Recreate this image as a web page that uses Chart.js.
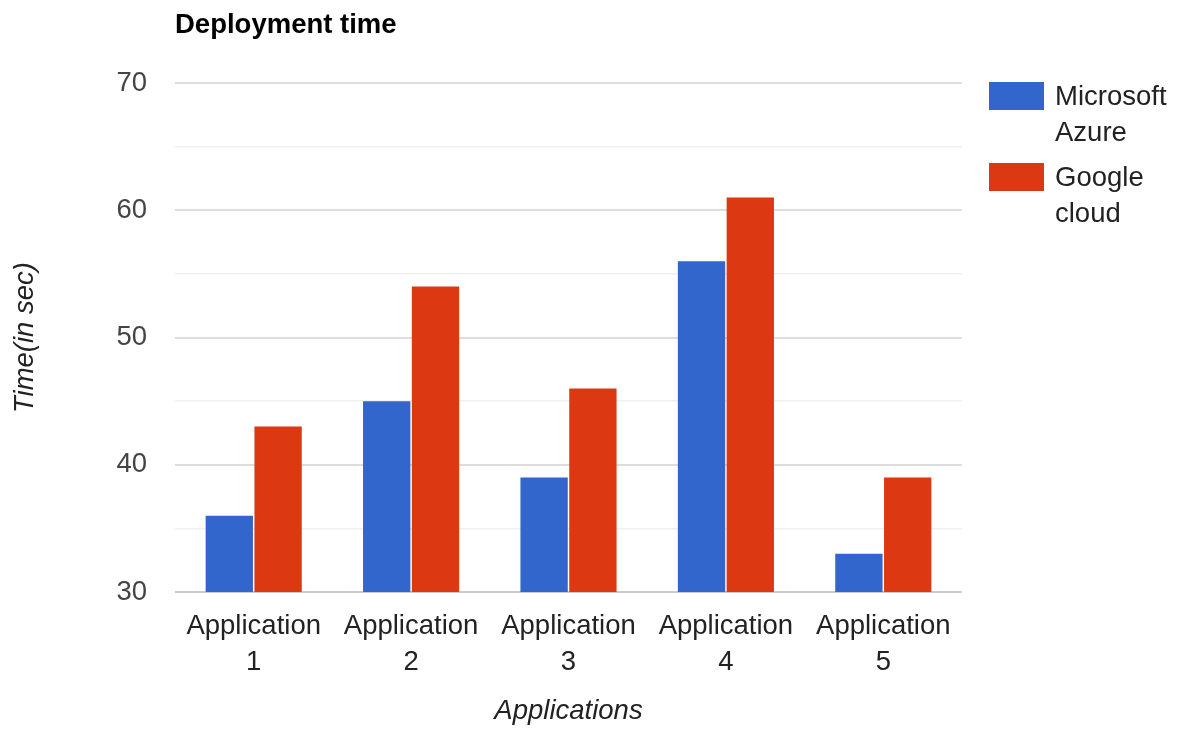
<!DOCTYPE html>
<html>
<head>
<meta charset="utf-8">
<script src="https://cdn.jsdelivr.net/npm/chart.js@4.4.1/dist/chart.umd.min.js"></script>
<style>
  html, body { margin: 0; padding: 0; background: #fff; }
  #wrap { position: relative; width: 1182px; height: 729px; font-family: "Liberation Sans", Arial, sans-serif; }
  #title { position: absolute; left: 175px; top: 8px; font-size: 27.5px; font-weight: bold; line-height: 32px; color: #000; }
  #legend { position: absolute; left: 989px; top: 78px; }
  .item { display: flex; align-items: flex-start; margin-bottom: 9px; }
  .swatch { width: 55px; height: 28px; margin-top: 4px; margin-right: 11px; }
  .label { width: 125px; font-size: 27.5px; line-height: 36px; color: #222; }
</style>
</head>
<body>
<div id="wrap">
  <canvas id="deploy-chart" width="1182" height="729"></canvas>
  <div id="title">Deployment time</div>
  <div id="legend"></div>
</div>
<script>
const categories = [['Application', '1'], ['Application', '2'], ['Application', '3'], ['Application', '4'], ['Application', '5']];
const azureTimes = [36, 45, 39, 56, 33];
const googleTimes = [43, 54, 46, 61, 39];
const seriesNames = ['Microsoft Azure', 'Google cloud'];
const seriesColors = ['#3366cc', '#dc3912'];
const yMin = 30;
const yMax = 70;

const fontFamily = '"Liberation Sans", Arial, sans-serif';

const ctx = document.getElementById('deploy-chart').getContext('2d');

const chart = new Chart(ctx, {
  type: 'bar',
  data: {
    labels: categories,
    datasets: [
      {
        label: seriesNames[0],
        data: azureTimes,
        backgroundColor: seriesColors[0],
      },
      {
        label: seriesNames[1],
        data: googleTimes,
        backgroundColor: seriesColors[1],
      },
    ],
  },
  options: {
    responsive: false,
    animation: false,
    layout: { padding: { left: 0, top: 83, right: 220, bottom: 0 } },
    datasets: {
      bar: { categoryPercentage: 0.62, barPercentage: 0.97 },
    },
    plugins: {
      legend: { display: false },
      tooltip: { enabled: false },
    },
    scales: {
      x: {
        afterFit: scale => { scale.height = 137; },
        grid: { display: false, drawTicks: false },
        border: { display: false },
        ticks: {
          color: '#222',
          padding: 16,
          maxRotation: 0,
          autoSkip: false,
          font: { family: fontFamily, size: 27.5, lineHeight: 1.33 },
        },
        title: {
          display: true,
          text: 'Applications',
          color: '#222',
          padding: { top: 0, bottom: 1 },
          font: { family: fontFamily, size: 27.5, style: 'italic' },
        },
      },
      y: {
        min: yMin,
        max: yMax,
        afterFit: scale => { scale.width = 175; },
        border: { display: false },
        grid: {
          drawTicks: false,
          color: c => c.tick.value === yMin ? '#cccccc' : (c.tick.value % 10 === 0 ? '#dddddd' : '#f0f0f0'),
          lineWidth: c => c.tick.value % 10 === 0 ? 2 : 1.5,
        },
        ticks: {
          stepSize: 5,
          color: '#444',
          padding: 28,
          callback: v => (v % 10 === 0 ? v : ''),
          font: { family: fontFamily, size: 27.5 },
        },
        title: {
          display: true,
          text: 'Time(in sec)',
          color: '#222',
          padding: { top: 8.5, bottom: 0 },
          font: { family: fontFamily, size: 27.5, style: 'italic' },
        },
      },
    },
  },
});

// html legend with wrapped labels, built from the datasets
const legendEl = document.getElementById('legend');
chart.data.datasets.forEach(ds => {
  const item = document.createElement('div');
  item.className = 'item';
  const sw = document.createElement('div');
  sw.className = 'swatch';
  sw.style.background = ds.backgroundColor;
  const txt = document.createElement('div');
  txt.className = 'label';
  txt.textContent = ds.label;
  item.appendChild(sw);
  item.appendChild(txt);
  legendEl.appendChild(item);
});
</script>
</body>
</html>
